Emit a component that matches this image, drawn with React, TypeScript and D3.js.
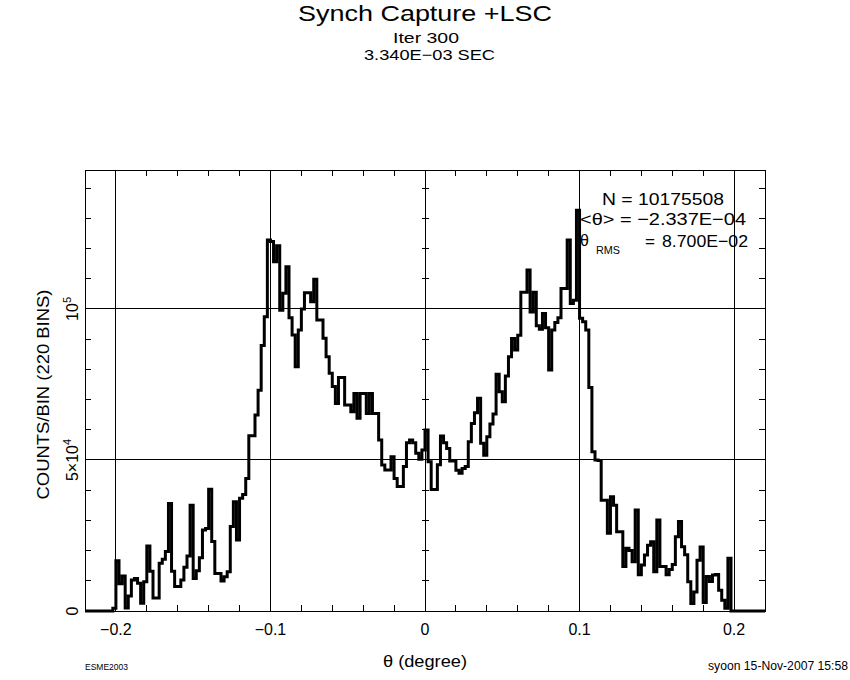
import React from "react";
import * as d3 from "d3";

// ---- data (counts per bin, in thousands) ----
const binLow = -0.22;
const binWidth = 0.002;
const countsK = [
  0, 0, 0, 0, 0, 0, 0, 0, 0, 0.9,
  16.6, 9, 11.6, 1, 5, 10.3, 10.8, 9.2, 2.6, 9.7,
  21.5, 13.2, 4.3, 4.3, 15.8, 17.1, 19.7, 35.6, 13.2, 8.1,
  8.1, 10.3, 14.5, 18.2, 35, 10.8, 13.3, 17.6, 26.8, 27.3,
  40.3, 23, 12.4, 12.4, 9.9, 11.3, 13, 28, 36.2, 23.5,
  37.3, 38.6, 43.9, 58, 58, 64.9, 73.1, 87.9, 97.4, 122.8,
  122.3, 115.6, 120.9, 99.6, 105.2, 114, 97.1, 91.4, 80.9, 93,
  100, 105.4, 105.4, 102.4, 109.8, 96.3, 96.3, 90.3, 84.2, 78.7,
  74.3, 68.7, 77.3, 77.3, 68.2, 68.2, 66, 72, 63.8, 72,
  72, 65.4, 72, 65.4, 65.4, 56.6, 48.3, 46.7, 46.7, 51.1,
  43.9, 41.2, 41.2, 47.8, 55.7, 56.6, 55.7, 52.2, 50.2, 53.3,
  59.9, 49.4, 40.2, 40.2, 48.4, 57.9, 55.7, 53.8, 49.7, 49.7,
  46.6, 45.6, 47.2, 47.8, 56, 62.1, 65.6, 70.4, 55.5, 51.6,
  57.7, 61.9, 65.2, 78.4, 72.6, 69.3, 77.8, 84.2, 90.2, 86.4,
  91.3, 105.5, 105.5, 112.9, 99, 105.5, 94.4, 93.3, 98.5, 93.8,
  79.8, 93, 95.5, 97.1, 106.8, 106.8, 122.8, 101.8, 102.9, 132.7,
  96.9, 95.8, 93, 74, 52.7, 50, 49.8, 36.7, 36.7, 25.7,
  37.8, 35, 26.2, 26.2, 14.7, 20.8, 20, 16.3, 33.4, 12,
  15.2, 18.5, 21.8, 22.9, 13, 30.1, 14.7, 14.7, 12, 13.7,
  15.4, 24.6, 29.6, 21.3, 18.6, 9.7, 2.5, 6.3, 16.8, 21.2,
  2.8, 11.4, 9.8, 11.9, 12.1, 6.9, 3.6, 0.9, 17.5, 0,
  0, 0, 0, 0, 0, 0, 0, 0, 0, 0,
];

const xMajorTicks = [-0.2, -0.1, 0, 0.1, 0.2];
const xMajorLabels = ["\u22120.2", "\u22120.1", "0", "0.1", "0.2"];
const xMinorTicks = [-0.2, -0.18, -0.16, -0.14, -0.12, -0.1, -0.08, -0.06, -0.04, -0.02, 0, 0.02, 0.04, 0.06, 0.08, 0.1, 0.12, 0.14, 0.16, 0.18, 0.2];
const yMajorTicks = [50, 100];
const yMinorTicks = [10, 20, 30, 40, 50, 60, 70, 80, 90, 100, 110, 120, 130, 140];

const titleText = "Synch Capture +LSC";
const subtitle1 = "Iter 300";
const subtitle2 = "3.340E\u221203 SEC";
const statN = "N = 10175508";
const statMean = "<\u03b8> = \u22122.337E\u221204";
const statRmsValue = "8.700E\u221202";

const W = 850;
const H = 680;
const L = 85, R = 765, T = 170, B = 611;

export default function App() {
  const x = d3.scaleLinear().domain([-0.22, 0.22]).range([L, R]);
  const y = d3.scaleLinear().domain([0, 146]).range([B, T]);

  const pts: [number, number][] = countsK.map((v, i) => [binLow + i * binWidth, v]);
  pts.push([binLow + countsK.length * binWidth, countsK[countsK.length - 1]]);
  const line = d3
    .line<[number, number]>()
    .x((d) => x(d[0]))
    .y((d) => y(d[1]))
    .curve(d3.curveStepAfter);
  const histPath = line(pts) || "";

  const font = "'Liberation Sans', Arial, sans-serif";
  const tick = 6;

  return (
    <div style={{ position: "absolute", left: 0, top: 0, width: W, height: H, background: "#fff" }}>
      <svg width={W} height={H} style={{ display: "block", fontFamily: font }}>
        <rect x={0} y={0} width={W} height={H} fill="#fff" />
        {/* titles */}
        <text x={425} y={21} fontSize={22} textAnchor="middle" textLength={254} lengthAdjust="spacingAndGlyphs">{titleText}</text>
        <text x={426} y={43} fontSize={15} textAnchor="middle" textLength={66} lengthAdjust="spacingAndGlyphs">{subtitle1}</text>
        <text x={429.5} y={59.5} fontSize={15} textAnchor="middle" textLength={131} lengthAdjust="spacingAndGlyphs">{subtitle2}</text>

        {/* frame */}
        <g stroke="#000" strokeWidth={1} fill="none" shapeRendering="crispEdges">
          <rect x={L} y={T} width={R - L} height={B - T} />
          {xMajorTicks.map((t) => (
            <line key={"gx" + t} x1={x(t)} x2={x(t)} y1={T} y2={B} />
          ))}
          {yMajorTicks.map((t) => (
            <line key={"gy" + t} x1={L} x2={R} y1={y(t)} y2={y(t)} />
          ))}
          {xMinorTicks.map((t) => (
            <g key={"tx" + t}>
              <line x1={x(t)} x2={x(t)} y1={B} y2={B - tick} />
              <line x1={x(t)} x2={x(t)} y1={T} y2={T + tick} />
            </g>
          ))}
          {yMinorTicks.map((t) => (
            <g key={"ty" + t}>
              <line x1={L} x2={L + tick} y1={y(t)} y2={y(t)} />
              <line x1={R} x2={R - tick} y1={y(t)} y2={y(t)} />
              <line x1={x(0) - 3.5} x2={x(0) + 3.5} y1={y(t)} y2={y(t)} />
            </g>
          ))}
        </g>

        {/* stats */}
        <text x={602} y={205} fontSize={17} textLength={122} lengthAdjust="spacingAndGlyphs">{statN}</text>
        <text x={580} y={225} fontSize={17} textLength={166} lengthAdjust="spacingAndGlyphs">{statMean}</text>
        <text x={580} y={246} fontSize={16}>{"\u03b8"}</text>
        <text x={596} y={254} fontSize={11} textLength={24} lengthAdjust="spacingAndGlyphs">RMS</text>
        <text x={645} y={247} fontSize={17}>=</text>
        <text x={662} y={247} fontSize={17} textLength={86} lengthAdjust="spacingAndGlyphs">{statRmsValue}</text>

        {/* histogram */}
        <path d={histPath} fill="none" stroke="#000" strokeWidth={3} strokeLinejoin="miter" />

        {/* x tick labels */}
        {xMajorTicks.map((t, i) => (
          <text key={"lx" + t} x={x(t)} y={635} fontSize={16} textAnchor="middle">{xMajorLabels[i]}</text>
        ))}
        <text x={425} y={667} fontSize={17} textAnchor="middle" textLength={84} lengthAdjust="spacingAndGlyphs">{"\u03b8 (degree)"}</text>

        {/* y tick labels (rotated) */}
        <text transform={`translate(78,${y(0)}) rotate(-90)`} fontSize={16} textAnchor="middle">0</text>
        <text transform={`translate(78,${y(50)}) rotate(-90)`} fontSize={16} textAnchor="middle">
          5×10<tspan dy={-7} fontSize={11}>4</tspan>
        </text>
        <text transform={`translate(78,${y(100)}) rotate(-90)`} fontSize={16} textAnchor="middle">
          10<tspan dy={-7} fontSize={11}>5</tspan>
        </text>
        <text transform={`translate(49,${(T + B) / 2 + 4}) rotate(-90)`} fontSize={17} textAnchor="middle" textLength={210} lengthAdjust="spacingAndGlyphs">COUNTS/BIN (220 BINS)</text>

        {/* footer */}
        <text x={85} y={670} fontSize={9} textLength={43} lengthAdjust="spacingAndGlyphs">ESME2003</text>
        <text x={708} y={670} fontSize={12} textLength={140} lengthAdjust="spacingAndGlyphs">syoon 15-Nov-2007 15:58</text>
      </svg>
    </div>
  );
}
